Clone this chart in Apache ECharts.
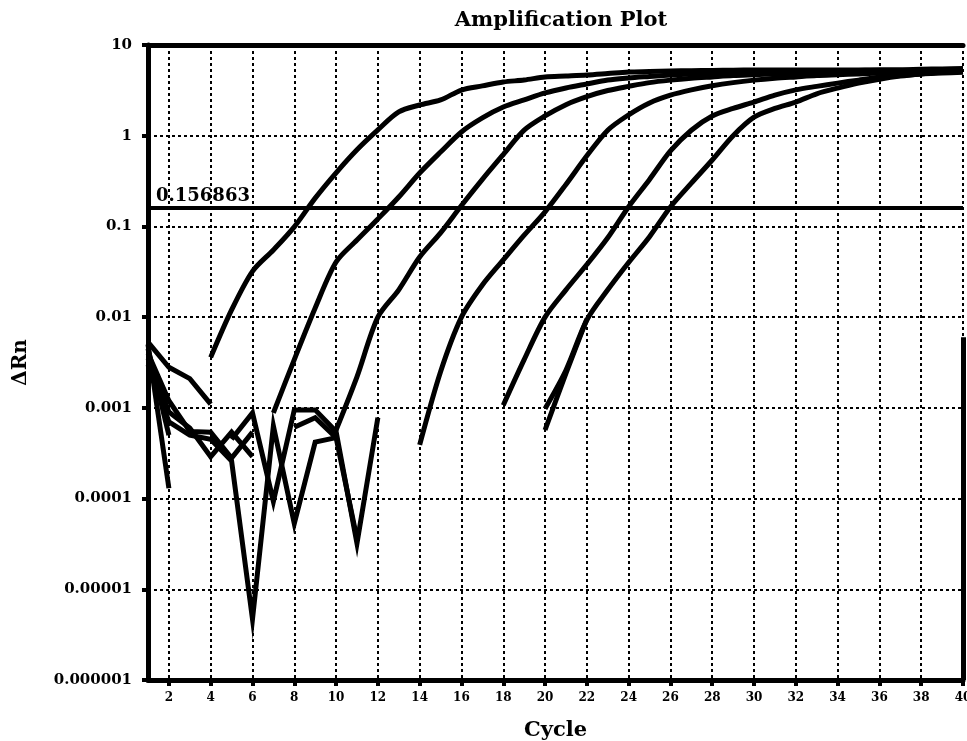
<!DOCTYPE html>
<html>
<head>
<meta charset="utf-8">
<title>Amplification Plot</title>
<script src="https://cdn.jsdelivr.net/npm/echarts@6/dist/echarts.min.js"></script>
<style>
    html, body { margin: 0; padding: 0; background: #fff; overflow: hidden; }
    #chart { width: 967px; height: 741px; }
</style>
</head>
<body>
<div id="chart"></div>
<script>
// cycles 1..40
var cycles = ['1','2','3','4','5','6','7','8','9','10','11','12','13','14','15','16','17','18','19','20',
              '21','22','23','24','25','26','27','28','29','30','31','32','33','34','35','36','37','38','39','40'];
var yTickLabels = ['0.000001','0.00001','0.0001','0.001','0.01','0.1','1','10'];
var threshold = 0.156863;

// amplification curves (dRn per cycle, null = not plotted)
var curveA = [null,null,null,0.0036,0.012,0.032,0.055,0.099,0.205,0.39,0.70,1.16,1.83,2.18,2.48,3.19,3.54,3.91,4.11,4.44,
              4.55,4.67,4.85,5.04,5.10,5.17,5.20,5.25,5.28,5.30,5.30,5.30,5.30,5.30,5.30,5.30,5.30,5.40,5.45,5.50];
var curveB = [null,null,null,null,null,null,0.00088,0.0034,0.0126,0.0405,0.0708,0.121,0.211,0.388,0.661,1.10,1.57,2.07,2.48,2.96,
              3.36,3.72,4.11,4.33,4.50,4.67,4.80,4.91,4.97,5.04,5.10,5.17,5.17,5.20,5.25,5.30,5.30,5.30,5.30,5.30];
var curveC = [null,null,null,null,null,null,null,null,null,0.00057,0.0022,0.010,0.020,0.046,0.085,0.17,0.33,0.62,1.15,1.65,
              2.2,2.7,3.15,3.5,3.85,4.1,4.3,4.45,4.6,4.7,4.8,4.9,4.95,5.0,5.05,5.1,5.15,5.2,5.25,5.3];
var curveD = [null,null,null,null,null,null,null,null,null,null,null,null,null,0.00039,0.0025,0.010,0.0226,0.0427,0.080,0.145,
              0.29,0.60,1.15,1.7,2.3,2.8,3.2,3.55,3.85,4.1,4.3,4.45,4.6,4.7,4.8,4.9,4.95,5.0,5.05,5.1];
var curveE = [null,null,null,null,null,null,null,null,null,null,null,null,null,null,null,null,null,0.00107,0.0034,0.010,
              0.020,0.038,0.075,0.165,0.33,0.68,1.15,1.65,2.0,2.35,2.8,3.2,3.5,3.8,4.1,4.4,4.6,4.8,4.9,5.0];
var curveF = [null,null,null,null,null,null,null,null,null,null,null,null,null,null,null,null,null,null,null,0.00098,
              0.0026,0.0093,0.02,0.04,0.077,0.164,0.30,0.54,1.0,1.6,2.0,2.35,2.9,3.35,3.8,4.2,4.55,4.8,5.0,5.1];
var curveF2 = [null,null,null,null,null,null,null,null,null,null,null,null,null,null,null,null,null,null,null,0.00057,
               0.0024,0.0095];

// baseline noise (early cycles)
var noise1 = [0.005,0.00013];
var noise2 = [0.0053,0.0028,0.0021,0.0011];
var noise3 = [0.0045,0.0005];
var noise4 = [0.004,0.0012,0.00055,0.00054,0.00028,0.00054];
var noise5 = [0.0035,0.0009,0.0006,0.00029,0.00054,0.00029];
var noise6 = [0.003,0.0007,0.0005,0.00045,0.00026,0.0000047,0.00063,0.000053,0.00042,0.00047];
var noise7 = [null,null,null,null,0.00045,0.00088,0.000093,0.00095,0.00095,0.00055,0.000032,0.00078];
var noise8 = [null,null,null,null,null,null,null,0.00061,0.00078,0.00047,0.000036];

var serifFont = '"DejaVu Serif", serif';

function evenCycle(idx, val) {
    return Number(val) % 2 === 0;
}

function getCharts() {
    var myChart = echarts.init(document.getElementById('chart'));
    var curves = [curveA, curveB, curveC, curveD, curveE, curveF, curveF2];
    var noises = [noise1, noise2, noise3, noise4, noise5, noise6, noise7, noise8];
    var series = [];
    curves.forEach(function (d) {
        series.push({
            type: 'line', data: d, symbol: 'none', smooth: 0.3, silent: true,
            lineStyle: { color: '#000', width: 5, join: 'round' }
        });
    });
    noises.forEach(function (d) {
        series.push({
            type: 'line', data: d, symbol: 'none', silent: true,
            lineStyle: { color: '#000', width: 5, join: 'miter' }
        });
    });
    // threshold line
    series[0].markLine = {
        silent: true,
        symbol: 'none',
        lineStyle: { color: '#000', width: 4, type: 'solid' },
        label: {
            show: true,
            position: 'insideStartTop',
            formatter: String(threshold),
            color: '#000',
            fontFamily: serifFont,
            fontWeight: 'bold',
            fontSize: 18,
            distance: [8, 3]
        },
        data: [{ yAxis: threshold }]
    };
    // partial right frame edge
    series[1].markLine = {
        silent: true,
        symbol: 'none',
        label: { show: false },
        lineStyle: { color: '#000', width: 5, type: 'solid' },
        data: [[{ coord: ['40', 0.006] }, { coord: ['40', 0.000001] }]]
    };

    var option = {
        animation: false,
        title: {
            text: 'Amplification Plot',
            left: 556,
            top: 5,
            textAlign: 'center',
            textStyle: { fontFamily: serifFont, fontWeight: 'bold', fontSize: 21, color: '#000' }
        },
        grid: { left: 148, right: 4, top: 45, bottom: 61, containLabel: false, outerBoundsMode: 'none' },
        xAxis: [{
            type: 'category',
            data: cycles,
            boundaryGap: false,
            name: 'Cycle',
            nameLocation: 'middle',
            nameGap: 40,
            nameTextStyle: { fontFamily: serifFont, fontWeight: 'bold', fontSize: 21, color: '#000' },
            axisLine: { lineStyle: { color: '#000', width: 5 } },
            axisTick: { show: true, interval: evenCycle, length: 6, lineStyle: { color: '#000', width: 4 } },
            axisLabel: { interval: evenCycle, margin: 12, fontFamily: serifFont, fontWeight: 'bold', fontSize: 12, color: '#000' },
            splitLine: { show: true, interval: evenCycle, lineStyle: { color: '#000', width: 2, type: [3, 3] } }
        }, {
            type: 'category',
            data: cycles,
            boundaryGap: false,
            position: 'top',
            axisLine: { lineStyle: { color: '#000', width: 5 } },
            axisTick: { show: false },
            axisLabel: { show: false },
            splitLine: { show: false }
        }],
        yAxis: {
            type: 'log',
            logBase: 10,
            min: 0.000001,
            max: 10,
            name: 'ΔRn',
            nameLocation: 'middle',
            nameGap: 117,
            nameRotate: 90,
            nameTextStyle: { fontFamily: serifFont, fontWeight: 'bold', fontSize: 20, color: '#000' },
            axisLine: { show: true, lineStyle: { color: '#000', width: 5 } },
            axisTick: { show: true, length: 6, lineStyle: { color: '#000', width: 4 } },
            axisLabel: {
                margin: 16,
                fontFamily: serifFont,
                fontWeight: 'bold',
                fontSize: 15,
                color: '#000',
                formatter: function (v) {
                    return yTickLabels[Math.round(Math.log10(v)) + 6];
                }
            },
            splitLine: { show: true, lineStyle: { color: '#000', width: 2, type: [3, 3] } }
        },
        series: series
    };
    myChart.setOption(option);
    window.onresize = myChart.resize;
}

getCharts();
</script>
</body>
</html>
